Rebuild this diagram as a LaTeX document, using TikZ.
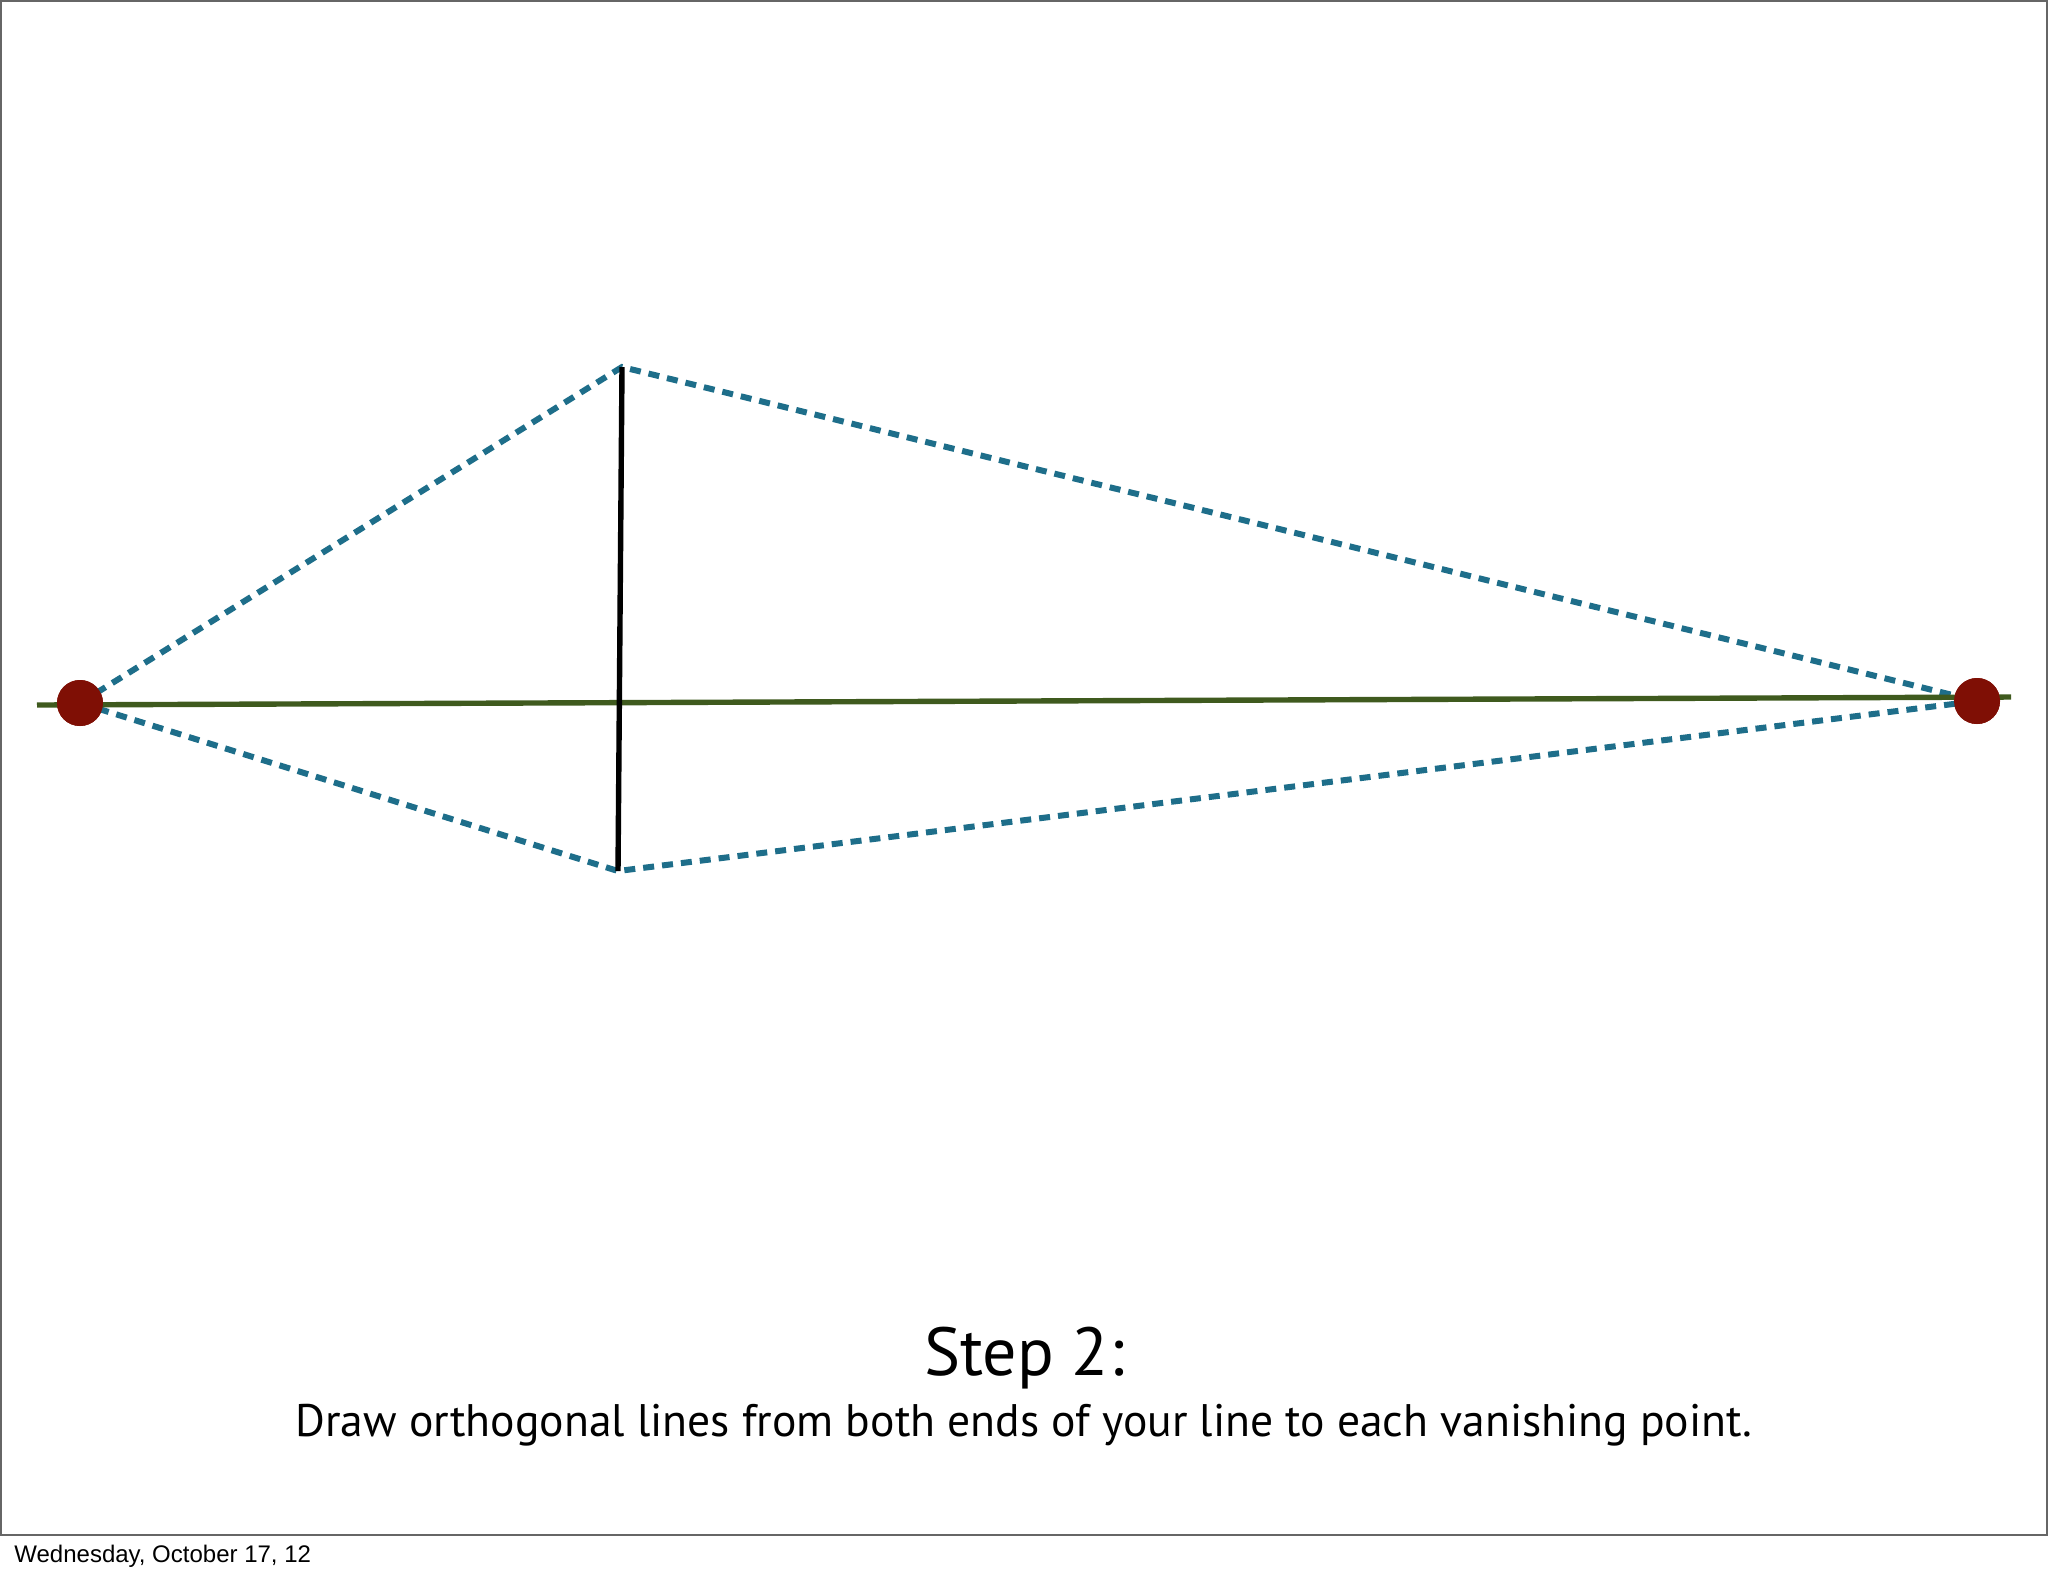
\documentclass[tikz,border=0pt]{standalone}
\usepackage{fontspec}
\setmainfont{PT Sans}
\newfontfamily\footfont{Liberation Sans}
\definecolor{orthblue}{HTML}{1E6E8A}
\definecolor{hor}{HTML}{3F5A1E}
\definecolor{vp}{HTML}{7F0F05}
\begin{document}
\begin{tikzpicture}[x=0.5pt,y=-0.5pt,
  orth/.style={color=orthblue,line width=3pt,dash pattern=on 5.5pt off 4pt},
  vpdot/.style={circle,fill=vp,minimum size=23pt,inner sep=0pt}]
\useasboundingbox (0,0) rectangle (2048,1576);
\draw[gray!80!black,line width=1pt] (1,1) rectangle (2047,1535);
\coordinate (hl) at (37,705);
\coordinate (hr) at (2011,697);
\coordinate (top) at (622,367);
\coordinate (bot) at (618,871);
\node[vpdot] (L) at (80,703) {};
\node[vpdot] (R) at (1977,701) {};
\draw[orth] (L.center) -- (top) -- (R.center);
\draw[orth] (L.center) -- (bot) -- (R.center);
\draw[hor,line width=2.7pt] (hl) -- (hr);
\draw[black,line width=2.7pt] (top) -- (bot);
\node[vpdot] at (L) {};
\node[vpdot] at (R) {};
\node (t1) at (1024,1358) {\fontsize{34}{40}\selectfont Step 2:};
\node (t2) at (1024,1425) {\fontsize{22.8}{27}\selectfont Draw orthogonal lines from both ends of your line to each vanishing point.};
\node[anchor=base west,inner sep=0pt] (f) at (14,1562) {\footfont\fontsize{12}{14}\selectfont Wednesday, October 17, 12};
\end{tikzpicture}
\end{document}
